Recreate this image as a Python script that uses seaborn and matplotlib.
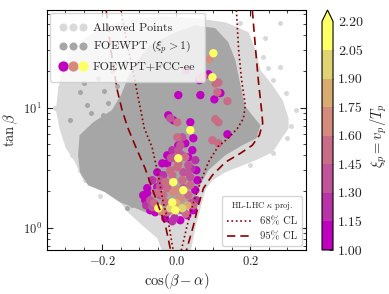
import numpy as np
import pandas as pd
import seaborn as sns
import matplotlib
matplotlib.use('Agg')
import matplotlib.pyplot as plt
from matplotlib.colors import ListedColormap, BoundaryNorm
from matplotlib.lines import Line2D
from matplotlib.legend_handler import HandlerTuple
from matplotlib.ticker import MultipleLocator

# ---- data ----
# envelope of the dense "allowed" cloud
allowed_poly_cos = [-0.036, -0.052, -0.093, -0.131, -0.152, -0.193, -0.220, -0.255, -0.274, -0.299,
                    -0.315, -0.326, -0.320, -0.310, -0.288, -0.255, -0.207, -0.139, -0.044, 0.051,
                    0.132, 0.195, 0.214, 0.227, 0.260, 0.287, 0.303, 0.303, 0.281, 0.260,
                    0.214, 0.173, 0.132, 0.097, 0.078, 0.065, 0.051, 0.037]
allowed_poly_tanb = [0.60, 0.814, 1.045, 1.34, 1.62, 1.97, 2.21, 2.58, 3.50, 4.58,
                     6.47, 9.5, 13.9, 19.7, 27.3, 36.4, 45.8, 53.4, 57.7, 55.5,
                     51.4, 42.4, 30.0, 20.5, 15.3, 11.5, 8.14, 6.72, 5.34, 4.24,
                     3.64, 3.24, 2.89, 2.48, 2.05, 1.45, 0.987, 0.60]
# loose allowed points outside the envelope
allowed_cos = [0.281, 0.173, 0.235, 0.246, 0.281, 0.260, 0.295, 0.322, 0.300, 0.262, 0.200,
               -0.328, -0.315, -0.282, -0.261, -0.247, -0.207, 0.310, -0.300, 0.240]
allowed_tanb = [50.4, 50.4, 26.3, 21.3, 21.7, 16.9, 13.2, 9.5, 5.55, 4.16, 3.31,
                10.0, 14.8, 4.00, 3.00, 2.48, 1.82, 7.0, 18.0, 38.0]

# envelope of the FOEWPT (xi_p > 1) cloud
foewpt_poly_cos = [-0.111, -0.152, -0.193, -0.239, -0.261, -0.266, -0.262, -0.225, -0.175, -0.150,
                   -0.132, -0.110, -0.071, -0.003, 0.051, 0.105, 0.140, 0.159, 0.173, 0.184,
                   0.205, 0.227, 0.216, 0.178, 0.132, 0.086, 0.059, 0.043, 0.010, -0.071]
foewpt_poly_tanb = [1.45, 1.62, 1.97, 2.25, 2.89, 4.00, 5.88, 7.54, 9.5, 12.7,
                    17.5, 23.8, 33.0, 42.4, 48.5, 45.8, 35.0, 24.8, 15.3, 10.45,
                    8.6, 7.12, 5.55, 4.85, 4.00, 3.00, 2.13, 1.53, 1.29, 1.29]
foewpt_cos = [-0.253, -0.207, -0.179, -0.133, -0.261, -0.212, -0.242, -0.198, -0.288, 0.078, -0.120,
              -0.230, -0.185, -0.160, -0.215, -0.175, -0.250, -0.140, -0.195]
foewpt_tanb = [3.00, 2.34, 2.39, 1.45, 13.4, 17.5, 10.45, 8.63, 7.84, 36.3, 1.55,
               9.0, 11.0, 15.0, 6.8, 20.0, 16.0, 24.0, 13.8]

# FOEWPT + FCC-ee points with xi_p = v_p/T_p
fcc_cos = [0.0997, 0.0889, 0.0266, 0.0862, 0.0726, 0.0645, 0.0970, 0.0618, 0.1051, 0.1133,
           0.1187, 0.1106, 0.0049, 0.0645, 0.1024, 0.1377, 0.1051, 0.1133, 0.0374, 0.0374,
           0.0022, -0.0168, -0.0222, -0.0087, 0.0455, 0.0022, 0.0970, 0.1377, 0.1133, 0.0157,
           0.0238, 0.0049,
           -0.0846, -0.0900, -0.0791, -0.0656, -0.0520, -0.0385, -0.0249, -0.0114, 0.0049, 0.0320,
           0.0428, 0.0509, 0.0537, 0.0564, 0.0509, 0.0537, 0.0455, 0.0293, 0.0103, -0.0114,
           -0.0304, -0.0575, -0.0710, -0.0818, -0.0791, -0.0520, -0.0358, -0.0249,
           0.0157, 0.0049, 0.0238, 0.0022, 0.0184, 0.0374, -0.0087, 0.0157, 0.0184, -0.0249,
           -0.0087, -0.0439, -0.0114, -0.0493, -0.0656, -0.0033, 0.0157, -0.0249, 0.0455, 0.0103,
           -0.0304, 0.0293, 0.0157, -0.0168, 0.0184, -0.0439, 0.0320, -0.0710, -0.0358, -0.0168,
           0.0320, -0.0033, 0.0103, -0.0114, 0.0374,
           -0.0600, -0.0450, -0.0300, 0.0000, 0.0300, 0.0400, -0.0050, 0.0250, -0.0400, 0.0050,
           -0.0150, 0.0400, -0.0550, 0.0000]
fcc_tanb = [28.35, 25.3, 20.5, 18.95, 18.2, 17.5, 17.9, 16.9, 15.9, 16.2,
            13.2, 13.4, 12.7, 12.7, 11.7, 11.3, 7.99, 7.54, 7.54, 6.47,
            7.54, 8.14, 8.63, 7.84, 5.55, 5.65, 5.34, 5.99, 5.04, 5.65,
            5.04, 4.41,
            1.69, 1.86, 2.13, 2.48, 2.89, 3.43, 4.00, 4.41, 4.85, 3.85,
            4.41, 3.64, 3.00, 2.48, 2.05, 1.69, 1.394, 1.266, 1.150, 1.128,
            1.195, 1.341, 1.394, 1.53, 1.93, 2.17, 2.73, 3.43,
            4.00, 3.78, 3.85, 3.18, 2.89, 2.63, 2.39, 2.48, 2.05, 2.13,
            1.97, 1.86, 1.62, 1.448, 1.476, 1.394, 1.448, 1.341, 1.53, 1.75,
            1.62, 1.53, 1.394, 3.00, 2.13, 2.48, 1.86, 1.69, 1.86, 1.448,
            3.31, 3.78, 4.85, 2.73, 2.26,
            1.60, 2.20, 2.40, 2.05, 2.90, 1.60, 1.20, 1.30, 1.35, 3.40,
            3.80, 3.10, 1.95, 1.60]
fcc_xi = [2.30, 1.70, 1.40, 1.05, 1.50, 1.55, 2.30, 1.10, 1.45, 1.50,
          1.05, 1.50, 1.05, 1.10, 1.05, 1.50, 1.55, 1.50, 1.05, 2.30,
          1.45, 1.40, 1.10, 1.05, 1.05, 1.45, 1.50, 1.05, 1.45, 1.35,
          1.05, 1.40,
          1.05, 1.10, 1.05, 1.20, 1.05, 1.10, 1.05, 1.20, 1.05, 1.10,
          1.05, 1.20, 1.05, 1.10, 1.05, 1.20, 1.05, 1.10, 1.05, 1.20,
          1.05, 1.10, 1.05, 1.20, 1.05, 1.10, 1.20, 1.05,
          1.35, 2.30, 1.50, 1.50, 1.40, 1.40, 2.25, 1.50, 2.30, 1.55,
          1.70, 1.40, 2.30, 2.30, 1.40, 2.25, 2.00, 1.50, 1.50, 1.70,
          1.55, 1.85, 1.40, 1.50, 1.40, 1.40, 1.55, 1.35, 1.55, 1.95,
          1.40, 1.40, 1.40, 1.55, 1.50,
          1.45, 1.35, 1.45, 1.60, 1.35, 1.30, 1.25, 1.45, 1.60, 1.45,
          1.30, 1.25, 1.50, 1.80]

# HL-LHC kappa projections
cl68_left_cos = [-0.150, -0.133, -0.120, -0.106, -0.087, -0.066, -0.049, -0.036, -0.022, -0.009, -0.007]
cl68_left_tanb = [64.7, 33.0, 22.5, 13.2, 6.72, 4.67, 2.73, 1.62, 1.107, 0.647, 0.60]
cl68_right_cos = [0.162, 0.168, 0.176, 0.186, 0.181, 0.165, 0.140, 0.113, 0.086, 0.065, 0.046, 0.029, 0.013, 0.011]
cl68_right_tanb = [64.7, 30.0, 16.9, 10.45, 8.14, 6.72, 5.55, 4.76, 3.50, 2.39, 1.62, 1.045, 0.647, 0.60]
cl95_left_cos = [-0.190, -0.179, -0.171, -0.160, -0.147, -0.131, -0.112, -0.085, -0.066, -0.052, -0.030, -0.017, -0.015]
cl95_left_tanb = [64.7, 33.0, 22.5, 13.9, 9.5, 6.72, 4.85, 3.12, 2.13, 1.62, 1.045, 0.672, 0.60]
cl95_right_cos = [0.205, 0.214, 0.222, 0.230, 0.233, 0.224, 0.205, 0.173, 0.132, 0.097, 0.073, 0.059, 0.046, 0.027, 0.025]
cl95_right_tanb = [64.7, 30.0, 15.9, 9.5, 7.40, 5.88, 4.85, 4.16, 3.50, 2.73, 2.13, 1.53, 1.045, 0.647, 0.60]

cbar_bounds = [1.00, 1.15, 1.30, 1.45, 1.60, 1.75, 1.90, 2.05, 2.20]
cbar_colors = ['#c000c0', '#b832a8', '#c05498', '#c86c88', '#d48a7c', '#d8ac70', '#e0d472', '#ffff66']

# ---- style ----
sns.set_style('ticks', {'axes.edgecolor': 'black', 'xtick.direction': 'in', 'ytick.direction': 'in',
                        'xtick.top': True, 'ytick.right': True})
plt.rcParams['font.family'] = 'serif'
plt.rcParams['font.serif'] = ['cmr10', 'DejaVu Serif']
plt.rcParams['mathtext.fontset'] = 'cm'
plt.rcParams['axes.formatter.use_mathtext'] = True

light = '#d9d9d9'
dark = '#a6a6a6'
red = '#8b0000'

cmap = ListedColormap(cbar_colors)
cmap.set_over('#ffff66')
norm = BoundaryNorm(cbar_bounds, cmap.N)

fig = plt.figure(figsize=(3.89, 2.94), dpi=100)
ax = fig.add_axes([0.1208, 0.1497, 0.6658, 0.8163])
cax = fig.add_axes([0.8278, 0.1497, 0.0283, 0.8163])
ax.set_yscale('log')

# point clouds
ax.fill(allowed_poly_cos, allowed_poly_tanb, color=light, lw=0, zorder=1)
sns.scatterplot(x=allowed_cos, y=allowed_tanb, color=light, s=13, linewidth=0, ax=ax, zorder=1)
ax.fill(foewpt_poly_cos, foewpt_poly_tanb, color=dark, lw=0, zorder=2)
sns.scatterplot(x=foewpt_cos, y=foewpt_tanb, color=dark, s=13, linewidth=0, ax=ax, zorder=2)

fcc = pd.DataFrame({'cos': fcc_cos, 'tanb': fcc_tanb, 'xi': fcc_xi}).sort_values('xi')
sns.scatterplot(x=fcc['cos'], y=fcc['tanb'], c=fcc['xi'], cmap=cmap, norm=norm,
                s=36, linewidth=0, ax=ax, zorder=3)
sc = ax.collections[-1]

# CL contours
for xs, ys in [(cl68_left_cos, cl68_left_tanb), (cl68_right_cos, cl68_right_tanb)]:
    sns.lineplot(x=xs, y=ys, sort=False, estimator=None, color=red, lw=1.2, ls=':', ax=ax, zorder=4)
for xs, ys in [(cl95_left_cos, cl95_left_tanb), (cl95_right_cos, cl95_right_tanb)]:
    sns.lineplot(x=xs, y=ys, sort=False, estimator=None, color=red, lw=1.2, ax=ax, zorder=4,
                 dashes=False, linestyle=(0, (5, 3)))

ax.set_xlim(-0.35, 0.35)
ax.set_ylim(0.65, 65)
ax.xaxis.set_major_locator(MultipleLocator(0.2))
ax.xaxis.set_minor_locator(MultipleLocator(0.05))
ax.tick_params(which='both', direction='in', top=True, right=True, labelsize=9)
ax.tick_params(which='major', length=4, width=0.8)
ax.tick_params(which='minor', length=2, width=0.6)
ax.set_xlabel(r'$\cos(\beta-\alpha)$', fontsize=10.5, labelpad=2)
ax.set_ylabel(r'$\tan\beta$', fontsize=10.5, labelpad=2)

# legends
def dots(colors, ms):
    return tuple(Line2D([], [], ls='', marker='o', ms=ms, mfc=c, mec='none') for c in colors)

h1 = dots([light] * 3, 5.8)
h2 = dots([dark] * 3, 5.8)
h3 = dots(['#c000c0', '#d48a7c', '#ffff66'], 7.4)
leg1 = ax.legend([h1, h2, h3], ['Allowed Points', r'FOEWPT ($\xi_p > 1$)', 'FOEWPT+FCC-ee'],
                 handler_map={tuple: HandlerTuple(ndivide=None, pad=0.3)},
                 loc='upper left', fontsize=8.6, handlelength=2.2, handletextpad=0.6,
                 borderaxespad=0.25, borderpad=0.8, labelspacing=0.5)
ax.add_artist(leg1)
l68 = Line2D([], [], color=red, lw=1.2, ls=':')
l95 = Line2D([], [], color=red, lw=1.2, ls=(0, (5, 3)))
leg2 = ax.legend([l68, l95], ['68% CL', '95% CL'], loc='lower right', fontsize=7.6,
                 title=r'HL-LHC $\kappa$ proj.', title_fontsize=6.2, handlelength=2.4,
                 borderaxespad=0.4)

# colorbar
cb = fig.colorbar(sc, cax=cax, extend='max', ticks=cbar_bounds)
cb.ax.set_yticklabels([f'{b:.2f}' for b in cbar_bounds])
cb.ax.tick_params(labelsize=10, length=3, width=0.6)
cb.set_label(r'$\xi_p = v_p/T_p$', fontsize=10.5)

fig.savefig('out.png', dpi=100)
